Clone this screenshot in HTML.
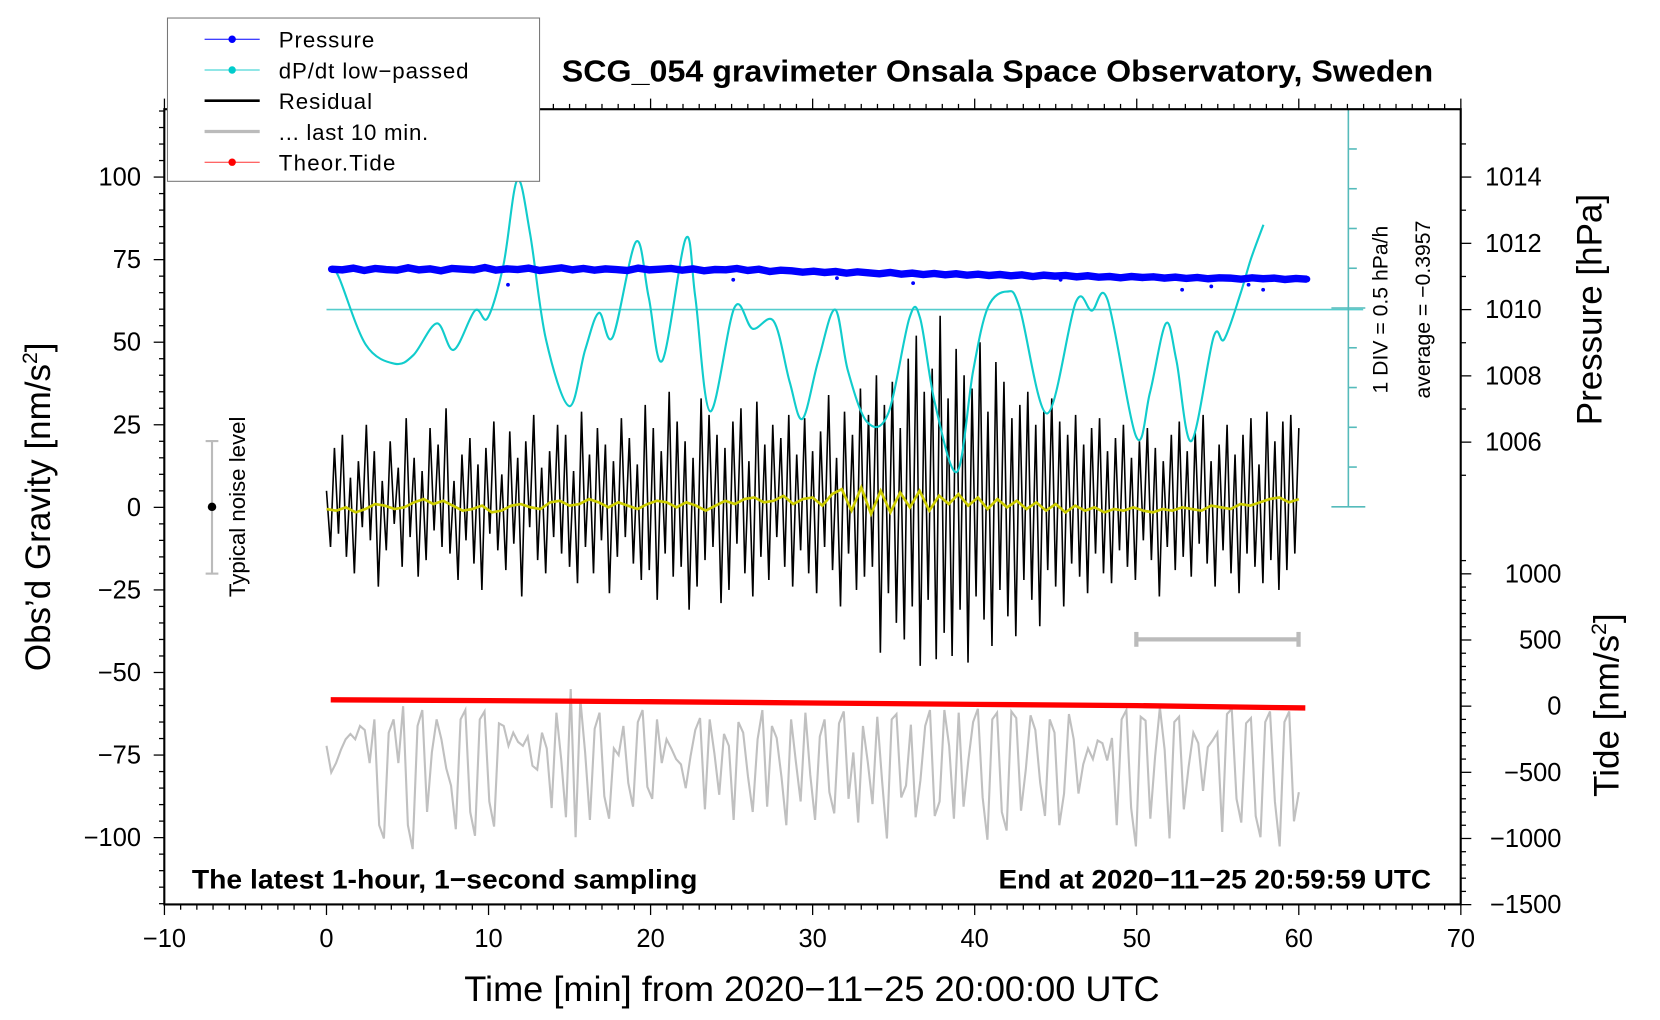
<!DOCTYPE html>
<html><head><meta charset="utf-8"><style>
html,body{margin:0;padding:0;background:#fff}
svg{display:block;font-family:"Liberation Sans",sans-serif}
</style></head><body>
<svg id="chart" width="1660" height="1020" viewBox="0 0 1566 962" preserveAspectRatio="none" xmlns="http://www.w3.org/2000/svg">
<g id="plot"></g>
<g id="axes"></g>
<rect x="155" y="103" width="1223" height="750" fill="none" stroke="#000" stroke-width="2"/>
<g>
<rect x="158" y="17" width="351" height="154" fill="#fff" stroke="#777" stroke-width="1"/>
<g><line x1="193" y1="37" x2="245" y2="37" stroke="#00f" stroke-width="1"/><circle cx="219" cy="37" r="3.5" fill="#00f"/><text x="263" y="45" font-size="21" textLength="90">Pressure</text></g>
<g><line x1="193" y1="66" x2="245" y2="66" stroke="#2cc" stroke-width="1"/><circle cx="219" cy="66" r="3.5" fill="#0cc"/><text x="263" y="74" font-size="21" textLength="179">dP/dt low−passed</text></g>
<g><line x1="193" y1="95" x2="245" y2="95" stroke="#000" stroke-width="2.5"/><text x="263" y="103" font-size="21" textLength="88">Residual</text></g>
<g><line x1="193" y1="124" x2="245" y2="124" stroke="#bbb" stroke-width="3"/><text x="263" y="132" font-size="21" textLength="141">... last 10 min.</text></g>
<g><line x1="193" y1="153" x2="245" y2="153" stroke="#f33" stroke-width="1"/><circle cx="219" cy="153" r="3.5" fill="#f00"/><text x="263" y="161" font-size="21" textLength="110">Theor.Tide</text></g>
</g>
<text x="530" y="77" font-size="29" font-weight="bold" textLength="822" lengthAdjust="spacingAndGlyphs">SCG_054 gravimeter Onsala Space Observatory, Sweden</text>
<text x="181" y="838" font-size="25" font-weight="bold" textLength="477" lengthAdjust="spacingAndGlyphs">The latest 1-hour, 1−second sampling</text>
<text x="942" y="838" font-size="25" font-weight="bold" textLength="408" lengthAdjust="spacingAndGlyphs">End at 2020−11−25 20:59:59 UTC</text>
<text x="438" y="944" font-size="33" textLength="656" lengthAdjust="spacingAndGlyphs">Time [min] from 2020−11−25 20:00:00 UTC</text>
<text transform="translate(47,478) rotate(-90)" font-size="33" text-anchor="middle">Obs’d Gravity [nm/s<tspan font-size="20" dy="-12">2</tspan><tspan dy="12">]</tspan></text>
<text transform="translate(1511,292) rotate(-90)" font-size="33" text-anchor="middle">Pressure [hPa]</text>
<text transform="translate(1527,665) rotate(-90)" font-size="33" text-anchor="middle">Tide [nm/s<tspan font-size="20" dy="-12">2</tspan><tspan dy="12">]</tspan></text>
<text transform="translate(1309,292) rotate(-90)" font-size="20" text-anchor="middle">1 DIV = 0.5 hPa/h</text>
<text transform="translate(1349,292) rotate(-90)" font-size="20" text-anchor="middle">average = −0.3957</text>
<g>
<line x1="200" y1="416" x2="200" y2="541" stroke="#bbb" stroke-width="2"/><line x1="194" y1="416" x2="206" y2="416" stroke="#bbb" stroke-width="2"/><line x1="194" y1="541" x2="206" y2="541" stroke="#bbb" stroke-width="2"/><circle cx="200" cy="478" r="4" fill="#000"/>
<text transform="translate(231,478) rotate(-90)" font-size="21" text-anchor="middle">Typical noise level</text>
</g>
<g stroke="#bbb" stroke-width="4">
<line x1="1072" y1="603" x2="1225" y2="603"/><line x1="1072" y1="596" x2="1072" y2="610"/><line x1="1225" y1="596" x2="1225" y2="610"/>
</g>
</svg>
<script>
const cyanT=[0.26,0.78,2.42,4.19,5.36,6.8,7.85,9.16,9.94,10.92,11.77,12.56,13.54,14.98,15.96,16.81,17.66,19.1,19.88,20.73,22.17,22.76,23.68,25.18,26.29,27.6,28.58,29.37,30.35,31.39,32.18,33.36,34.66,35.97,36.63,37.54,38.91,39.9,40.81,41.99,42.77,44.47,46.24,47.22,48.2,49.97,50.82,51.8,52.45,53.37,54.74,55.4,56.38,57.03,57.82];
const cyanV=[0.138,0.004,-0.836,-1.076,-0.969,-0.569,-0.902,-0.409,-0.502,0.164,1.231,0.564,-0.769,-1.609,-0.902,-0.436,-0.742,0.458,-0.236,-1.036,0.498,-0.236,-1.676,-0.369,-0.636,-0.542,-1.302,-1.769,-1.036,-0.396,-1.169,-1.809,-1.702,-0.502,-0.502,-1.569,-2.436,-1.169,-0.369,-0.169,-0.369,-1.702,-0.302,-0.409,-0.276,-1.996,-1.436,-0.569,-1.036,-2.049,-0.742,-0.769,-0.209,0.231,0.671];
const dpdtAverage=-0.3957;
const pressureV=[1011.22,1011.2,1011.25,1011.18,1011.24,1011.21,1011.19,1011.26,1011.2,1011.23,1011.17,1011.24,1011.22,1011.2,1011.27,1011.19,1011.23,1011.21,1011.25,1011.18,1011.22,1011.26,1011.2,1011.24,1011.19,1011.23,1011.21,1011.18,1011.25,1011.2,1011.22,1011.24,1011.19,1011.23,1011.17,1011.21,1011.2,1011.24,1011.18,1011.22,1011.15,1011.19,1011.17,1011.13,1011.16,1011.12,1011.15,1011.1,1011.14,1011.11,1011.08,1011.12,1011.07,1011.1,1011.06,1011.09,1011.05,1011.08,1011.04,1011.07,1011.03,1011.06,1011.02,1011.05,1011.0,1011.04,1011.01,1011.03,1010.99,1011.02,1010.98,1011.0,1010.96,1011.0,1010.97,1010.99,1010.95,1010.98,1010.94,1010.97,1010.93,1010.96,1010.95,1010.92,1010.96,1010.93,1010.95,1010.91,1010.94,1010.92];
const pressureOutT=[11.2,25.1,31.5,36.2,45.3,52.8,54.6,56.9,57.8];
const pressureOutV=[1010.75,1010.9,1010.95,1010.8,1010.9,1010.6,1010.7,1010.75,1010.6];
const residualV=[5,-12,18,-8,22,-15,9,-20,14,-6,25,-10,17,-24,8,-13,20,-5,12,-18,27,-9,15,-21,11,-16,24,-7,19,-12,30,-14,8,-22,16,-10,21,-17,13,-25,18,-8,26,-13,10,-19,23,-11,15,-27,20,-6,28,-16,12,-20,17,-9,25,-14,22,-18,11,-23,29,-12,16,-20,24,-10,19,-26,14,-15,27,-9,21,-17,13,-22,31,-19,24,-28,17,-14,35,-21,26,-18,20,-31,15,-24,33,-16,28,-12,22,-29,18,-25,26,-11,30,-20,14,-27,32,-15,19,-22,25,-9,21,-18,28,-24,16,-13,27,-20,17,-26,23,-12,34,-19,15,-30,29,-14,22,-25,36,-21,28,-18,40,-44,31,-26,38,-35,24,-40,45,-30,52,-48,35,-28,42,-46,58,-38,33,-45,48,-31,40,-47,36,-27,50,-34,29,-42,44,-25,38,-33,27,-39,31,-22,35,-28,25,-36,29,-19,33,-24,26,-30,22,-17,28,-21,19,-26,24,-14,27,-20,17,-23,21,-13,25,-18,15,-22,20,-10,24,-16,18,-27,14,-12,22,-19,26,-15,17,-21,23,-11,28,-17,14,-24,19,-13,25,-20,16,-26,22,-14,27,-18,13,-23,29,-16,20,-25,26,-19,28,-14,24];
const yellowV=[-0.5,-1,0,-1.5,-0.5,1,0.5,-0.5,0,1.5,2.5,1,2,0.5,-1,-0.5,0.5,-1.5,-1,0.5,1,0,-0.5,1.5,2,0.5,1,2.5,1.5,0,1.5,0.5,-0.5,1,2,1.5,0,1.5,0.5,-1,0.5,2,1,2.5,3,1.5,2,3.5,1,2.5,3,0.5,4,5.5,-1,6,-2,5,-1.5,4.5,0,5,-1,3.5,1,4,0.5,3,-0.5,2.5,0,2,-0.5,1.5,-1,1,-1.5,0.5,-1,0,-1.5,-0.5,-1,0,-1,-1.5,-0.5,-1,0,-0.5,-1,0.5,0,-0.5,1,0.5,1.5,2.5,3,1.5,2.5];
const grayV=[-300,-500,-430,-330,-250,-210,-250,-150,-180,-430,-100,-900,-1000,-200,-100,-430,0,-900,-1080,-150,-30,-800,-350,-100,-250,-470,-600,-930,-100,-30,-800,-980,-100,-40,-720,-910,-130,-150,-300,-200,-270,-300,-230,-450,-480,-200,-320,-770,-50,-400,-840,130,-990,50,-350,-860,-170,-50,-680,-850,-320,-370,-150,-580,-760,-120,-30,-610,-700,-100,-430,-250,-320,-400,-440,-620,-380,-180,-90,-780,-100,-360,-670,-210,-300,-860,-120,-200,-530,-800,-250,-30,-760,-150,-240,-540,-900,-100,-420,-720,-50,-520,-860,-230,-100,-650,-810,-130,-40,-700,-350,-880,-150,-420,-740,-80,-560,-1000,-100,-60,-690,-600,-140,-840,-560,-150,-30,-830,-720,-30,-300,-850,-50,-760,-410,-120,-20,-690,-1010,-100,-50,-800,-940,-40,-90,-790,-480,-70,-180,-580,-830,-100,-200,-900,-660,-60,-250,-660,-440,-320,-400,-260,-280,-410,-240,-900,-100,-30,-770,-1060,-80,-110,-850,-380,-10,-330,-1000,-120,-80,-780,-460,-200,-280,-640,-310,-260,-200,-950,-60,-20,-700,-880,-130,-90,-830,-990,-120,-40,-720,-1060,-120,-40,-870,-650];
const tideT=[0.26,10,20,30,40,50,60.4];
const tideV=[48,42,34,24,14,4,-14];

const X=m=>308+m*(1378-155)/80;
const YG=v=>478.5-v*3.115;
const YP=p=>292-(p-1010)*31.25;
const YT=t=>666-t*0.1248;
const YD=v=>292-(v-dpdtAverage)*75;
const NS='http://www.w3.org/2000/svg';
const plot=document.getElementById('plot'), axes=document.getElementById('axes');
function mk(tag,attrs,parent){const e=document.createElementNS(NS,tag);for(const k in attrs)e.setAttribute(k,attrs[k]);parent.appendChild(e);return e;}

let d='';grayV.forEach((v,i)=>{d+=(i?'L':'M')+X(i*60/(grayV.length-1)).toFixed(1)+','+YT(v).toFixed(1);});
const g1=mk('path',{d:d,fill:'none',stroke:'#c0c0c0','stroke-width':2},plot);



d='';residualV.forEach((v,i)=>{d+=(i?'L':'M')+X(i*60/(residualV.length-1)).toFixed(1)+','+YG(v).toFixed(1);});
const r1=mk('path',{d:d,fill:'none',stroke:'#000','stroke-width':1.5},plot);



d='';yellowV.forEach((v,i)=>{d+=(i?'L':'M')+X(i*60/(yellowV.length-1)).toFixed(1)+','+YG(v).toFixed(1);});
const y1=mk('path',{d:d,fill:'none',stroke:'#cc0','stroke-width':2.5},plot);



d='';tideT.forEach((t,i)=>{d+=(i?'L':'M')+X(t).toFixed(1)+','+YT(tideV[i]).toFixed(1);});
const t1=mk('path',{d:d,fill:'none',stroke:'#f00','stroke-width':5},plot);



const av=mk('line',{x1:X(0),x2:1286,y1:YD(dpdtAverage),y2:YD(dpdtAverage),stroke:'#5cc','stroke-width':1.5},plot);


const pts=cyanT.map((t,i)=>[X(t),YD(cyanV[i])]);
d='M'+pts[0][0]+','+pts[0][1];
for(let i=0;i<pts.length-1;i++){const p0=pts[Math.max(0,i-1)],p1=pts[i],p2=pts[i+1],p3=pts[Math.min(pts.length-1,i+2)];
d+='C'+(p1[0]+(p2[0]-p0[0])/6).toFixed(1)+','+(p1[1]+(p2[1]-p0[1])/6).toFixed(1)+' '+(p2[0]-(p3[0]-p1[0])/6).toFixed(1)+','+(p2[1]-(p3[1]-p1[1])/6).toFixed(1)+' '+p2[0].toFixed(1)+','+p2[1].toFixed(1);}
const c1=mk('path',{d:d,fill:'none',stroke:'#1cc','stroke-width':2},plot);



d='';pressureV.forEach((v,i)=>{d+=(i?'L':'M')+X(0.3+i*60.2/(pressureV.length-1)).toFixed(1)+','+YP(v).toFixed(1);});
const p1=mk('path',{d:d,fill:'none',stroke:'#00f','stroke-width':7},plot);


pressureV.forEach((v,i)=>{const c=mk('circle',{cx:X(0.3+i*60.2/(pressureV.length-1)),cy:YP(v),r:3.2,fill:'#00f'},plot);

});
pressureOutT.forEach((t,i)=>{const c=mk('circle',{cx:X(t),cy:YP(pressureOutV[i]),r:1.8,fill:'#00f'},plot);

});

mk('line',{x1:1272,x2:1272,y1:103,y2:478,stroke:'#5bb','stroke-width':1.5},axes);
for(let k=0;k<=10;k++){const yy=103+k*37.5;mk('line',{x1:1272-(k%5==0?16:0),x2:1272+(k%5==0?16:8),y1:yy,y2:yy,stroke:'#5bb','stroke-width':1.5},axes);}

for(let m=-10;m<=70;m++){const xx=X(m);const major=m%10==0;const L=major?10:5;
mk('line',{x1:xx,x2:xx,y1:853,y2:853+L,stroke:'#000','stroke-width':1.2},axes);
mk('line',{x1:xx,x2:xx,y1:103,y2:103-L,stroke:'#000','stroke-width':1.2},axes);
if(major){const t=mk('text',{x:xx,y:893,'font-size':24,'text-anchor':'middle'},axes);t.textContent=(m<0?'−':'')+Math.abs(m);

}}
for(let v=-120;v<=120;v+=5){const yy=YG(v);const major=v%25==0;
mk('line',{x1:155,x2:155-(major?10:5),y1:yy,y2:yy,stroke:'#000','stroke-width':1.2},axes);
if(major&&Math.abs(v)<=100){const t=mk('text',{x:133,y:yy+8,'font-size':24,'text-anchor':'end'},axes);t.textContent=(v<0?'−':'')+Math.abs(v);

}}
for(let p=1005;p<=1015;p++){const yy=YP(p);if(yy<103)continue;const major=p%2==0;
mk('line',{x1:1378,x2:1378+(major?10:5),y1:yy,y2:yy,stroke:'#000','stroke-width':1.2},axes);
if(major&&p>=1006&&p<=1014){const t=mk('text',{x:1401,y:yy+8,'font-size':24},axes);t.textContent=p;

}}
for(let tv=-1500;tv<=1100;tv+=100){const yy=YT(tv);const major=tv%500==0;
mk('line',{x1:1378,x2:1378+(major?10:5),y1:yy,y2:yy,stroke:'#000','stroke-width':1.2},axes);
if(major&&tv<=1000){const t=mk('text',{x:1473,y:yy+8,'font-size':24,'text-anchor':'end'},axes);t.textContent=(tv<0?'−':'')+Math.abs(tv);

}}
</script>
</body></html>
